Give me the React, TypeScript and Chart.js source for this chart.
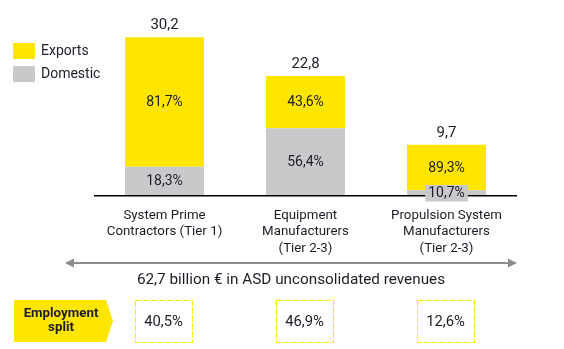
import React, { useEffect, useRef } from "react";
import { Chart, registerables } from "chart.js";

Chart.register(...registerables);

// ---- data ----
const categories: string[][] = [
  ["System Prime", "Contractors (Tier 1)"],
  ["Equipment", "Manufacturers", "(Tier 2-3)"],
  ["Propulsion System", "Manufacturers", "(Tier 2-3)"],
];
const totals = [30.2, 22.8, 9.7];
const domesticValues = [5.53, 12.86, 1.04];
const exportValues = [24.67, 9.94, 8.66];
const domesticShare = [18.3, 56.4, 10.7];
const exportShare = [81.7, 43.6, 89.3];
const employmentSplit = [40.5, 46.9, 12.6];
const seriesNames = ["Domestic", "Exports"];
const revenueCaption = "62,7 billion € in ASD unconsolidated revenues";
const employmentLabel = ["Employment", "split"];

const YELLOW = "#FFE600";
const GREY = "#C9C9CB";
const TEXT = "#1d1d27";
const FONT = "Roboto, 'Liberation Sans', sans-serif";

const fmt = (v: number) => v.toFixed(1).replace(".", ",");

export default function App() {
  const ref = useRef<HTMLCanvasElement>(null);

  useEffect(() => {
    if (!ref.current) return;

    const overlay = {
      id: "overlay",
      afterDatasetsDraw(chart: any) {
        const ctx: CanvasRenderingContext2D = chart.ctx;
        const area = chart.chartArea;
        const ys = chart.scales.y;
        const y0 = ys.getPixelForValue(0);
        ctx.save();
        // baseline
        ctx.strokeStyle = "#000";
        ctx.lineWidth = 1.6;
        ctx.beginPath();
        ctx.moveTo(area.left, y0);
        ctx.lineTo(area.right, y0);
        ctx.stroke();

        ctx.textAlign = "center";
        ctx.textBaseline = "middle";
        ctx.font = `14px ${FONT}`;
        const shares = [domesticShare, exportShare];
        [0, 1].forEach((di) => {
          const meta = chart.getDatasetMeta(di);
          meta.data.forEach((bar: any, i: number) => {
            const top = Math.min(bar.y, bar.base);
            const bottom = Math.max(bar.y, bar.base);
            const cy = (top + bottom) / 2;
            const label = fmt(shares[di][i]) + "%";
            if (bottom - top < 16) {
              const w = ctx.measureText(label).width + 6;
              ctx.fillStyle = GREY;
              ctx.fillRect(bar.x - w / 2, cy - 8, w, 16.5);
            }
            ctx.fillStyle = TEXT;
            ctx.fillText(label, bar.x, cy + 0.5);
          });
        });

        // totals above bars
        ctx.font = `15px ${FONT}`;
        const expMeta = chart.getDatasetMeta(1);
        expMeta.data.forEach((bar: any, i: number) => {
          ctx.fillStyle = TEXT;
          ctx.fillText(fmt(totals[i]), bar.x, bar.y - 12);
        });

        // category labels
        ctx.font = `13.3px ${FONT}`;
        const xs = chart.scales.x;
        categories.forEach((lines, i) => {
          const cx = xs.getPixelForValue(i);
          lines.forEach((ln, j) => {
            ctx.fillText(ln, cx, y0 + 19.5 + j * 16.5);
          });
        });

        // double-headed arrow
        const ay = 263;
        const ax1 = 65;
        const ax2 = 517;
        ctx.strokeStyle = "#8c8c8c";
        ctx.fillStyle = "#8c8c8c";
        ctx.lineWidth = 2;
        ctx.beginPath();
        ctx.moveTo(ax1 + 6, ay);
        ctx.lineTo(ax2 - 6, ay);
        ctx.stroke();
        ctx.beginPath();
        ctx.moveTo(ax1, ay);
        ctx.lineTo(ax1 + 9, ay - 4.5);
        ctx.lineTo(ax1 + 9, ay + 4.5);
        ctx.closePath();
        ctx.fill();
        ctx.beginPath();
        ctx.moveTo(ax2, ay);
        ctx.lineTo(ax2 - 9, ay - 4.5);
        ctx.lineTo(ax2 - 9, ay + 4.5);
        ctx.closePath();
        ctx.fill();

        ctx.fillStyle = TEXT;
        ctx.font = `15.3px ${FONT}`;
        ctx.fillText(revenueCaption, (ax1 + ax2) / 2, 280);

        // employment split tag
        ctx.fillStyle = YELLOW;
        ctx.beginPath();
        ctx.moveTo(14, 300);
        ctx.lineTo(106, 300);
        ctx.lineTo(113, 321);
        ctx.lineTo(106, 342);
        ctx.lineTo(14, 342);
        ctx.closePath();
        ctx.fill();
        ctx.fillStyle = TEXT;
        ctx.font = `bold 13.3px ${FONT}`;
        ctx.fillText(employmentLabel[0], 61, 314);
        ctx.fillText(employmentLabel[1], 61, 328);

        // employment boxes
        ctx.font = `14.8px ${FONT}`;
        employmentSplit.forEach((v, i) => {
          const cx = xs.getPixelForValue(i) - 1;
          const w = 57;
          ctx.strokeStyle = YELLOW;
          ctx.lineWidth = 1;
          ctx.setLineDash([6, 2]);
          ctx.strokeRect(Math.round(cx - w / 2) + 0.5, 300.5, w, 42);
          ctx.setLineDash([]);
          ctx.fillStyle = TEXT;
          ctx.fillText(fmt(v) + "%", cx, 322.5);
        });

        // legend
        const legendColors = [YELLOW, GREY];
        const legendNames = [seriesNames[1], seriesNames[0]];
        ctx.textAlign = "left";
        ctx.font = `14px ${FONT}`;
        legendNames.forEach((n, i) => {
          const ly = 43 + i * 23;
          ctx.fillStyle = legendColors[i];
          ctx.fillRect(13, ly, 22, 16);
          ctx.fillStyle = TEXT;
          ctx.fillText(n, 41, ly + 8.5);
        });

        ctx.restore();
      },
    };

    const chart = new Chart(ref.current, {
      type: "bar",
      data: {
        labels: categories.map((c) => c.join(" ")),
        datasets: [
          {
            label: seriesNames[0],
            data: domesticValues,
            backgroundColor: GREY,
            borderWidth: 0,
          },
          {
            label: seriesNames[1],
            data: exportValues,
            backgroundColor: YELLOW,
            borderWidth: 0,
          },
        ],
      },
      options: {
        responsive: false,
        animation: false,
        layout: { padding: { left: 94, right: 47, top: 12, bottom: 153.3 } },
        datasets: { bar: { barPercentage: 0.56, categoryPercentage: 1 } },
        plugins: { legend: { display: false }, tooltip: { enabled: false } },
        scales: {
          x: { stacked: true, display: false },
          y: { stacked: true, display: false, min: 0, max: 35 },
        },
      },
      plugins: [overlay],
    });
    return () => chart.destroy();
  }, []);

  return (
    <div style={{ position: "fixed", left: 0, top: 0, width: 564, height: 349, background: "#fff" }}>
      <canvas ref={ref} width={564} height={349} style={{ display: "block" }} />
    </div>
  );
}
